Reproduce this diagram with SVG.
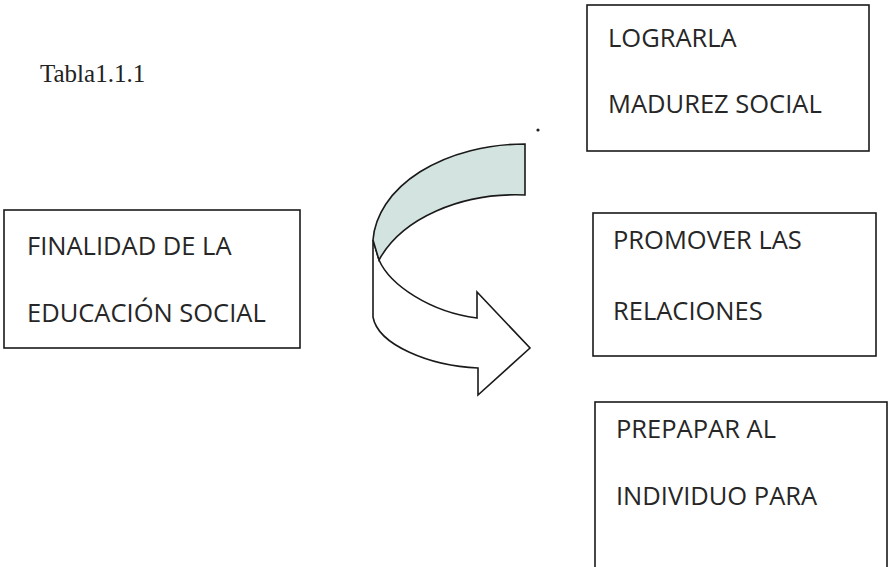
<svg xmlns="http://www.w3.org/2000/svg" width="891" height="567" viewBox="0 0 891 567">
<style>
.box{fill:#fff;stroke:#1a1a1a;stroke-width:1.6}
.lbl{font-family:"Open Sans","Liberation Sans",sans-serif;font-size:25.5px;fill:#262626}
.title{font-family:"Liberation Serif",serif;font-size:25px;fill:#222}
.arr{stroke:#1a1a1a;stroke-width:1.6;stroke-linejoin:miter}
</style>
<rect width="891" height="567" fill="#fff"/>
<text class="title" x="40" y="82">Tabla1.1.1</text>
<circle cx="538" cy="130" r="1.6" fill="#222"/>
<g id="node-finalidad">
<rect class="box" x="4" y="210" width="296" height="138"/>
<text class="lbl" x="27" y="255">FINALIDAD DE LA</text>
<text class="lbl" x="27" y="322">EDUCACIÓN SOCIAL</text>
</g>
<g id="node-lograrla">
<rect class="box" x="587" y="5" width="282" height="146"/>
<text class="lbl" x="608" y="47">LOGRARLA</text>
<text class="lbl" x="608" y="113">MADUREZ SOCIAL</text>
</g>
<g id="node-promover">
<rect class="box" x="593" y="213" width="283" height="143"/>
<text class="lbl" x="613" y="249">PROMOVER LAS</text>
<text class="lbl" x="613" y="320">RELACIONES</text>
</g>
<g id="node-prepapar">
<rect class="box" x="595" y="402" width="292" height="175"/>
<text class="lbl" x="616" y="438">PREPAPAR AL</text>
<text class="lbl" x="616" y="505">INDIVIDUO PARA</text>
</g>
<g id="connectors">
<path class="arr" fill="#fff" d="M373,240 L373,317 C378,345 430,366 478,368 L478,395 L530,348 L477,292 L477,318 C430,312 390,285 379,260 Z"/>
<path class="arr" fill="#d3e3e0" d="M525,144 A152,101 0 0 0 373,240 L379,260 A146,100 0 0 1 525,195 Z"/>
</g>
</svg>
